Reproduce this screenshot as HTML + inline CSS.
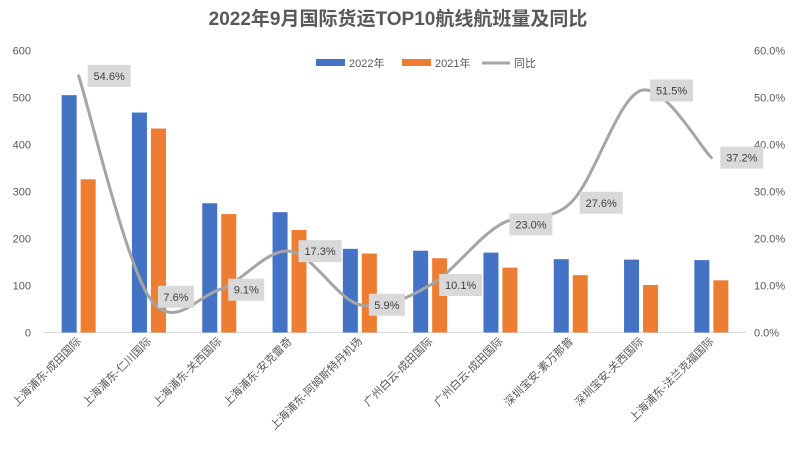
<!DOCTYPE html>
<html><head><meta charset="utf-8"><style>
body{margin:0;background:#fff;}
svg{display:block;font-family:"Liberation Sans","Noto Sans CJK SC",sans-serif;}
</style></head><body>
<svg id="chart" width="796" height="452">
<text x="398" y="25" text-anchor="middle" font-size="19" font-weight="bold" fill="#595959">2022年9月国际货运TOP10航线航班量及同比</text>
<g id="legend">
<g><rect x="316" y="59" width="29" height="7" fill="#4472c4"/><text x="349" y="67" font-size="11" fill="#595959">2022年</text></g>
<g><rect x="402" y="59" width="29" height="7" fill="#ed7d31"/><text x="435" y="67" font-size="11" fill="#595959">2021年</text></g>
<g><line x1="482" y1="63" x2="510" y2="63" stroke="#a5a5a5" stroke-width="3"/><text x="514" y="67" font-size="11" fill="#595959">同比</text></g>
</g>
<g id="axes"></g>
<g id="bars"></g>
<g id="line"></g>
<g id="labels"></g>
</svg>
<script>
const categories=["上海浦东-成田国际","上海浦东-仁川国际","上海浦东-关西国际","上海浦东-安克雷奇","上海浦东-阿姆斯特丹机场","广州白云-成田国际","广州白云-成田国际","深圳宝安-素万那普","深圳宝安-关西国际","上海浦东-法兰克福国际"];
const series2022=[505,468,275,256,178,174,170,156,155,154];
const series2021=[326,434,252,218,168,158,138,122,101,111];
const yoy=[54.6,7.6,9.1,17.3,5.9,10.1,23.0,27.6,51.5,37.2];
const leftTicks=[0,100,200,300,400,500,600];
const rightTicks=[0,10,20,30,40,50,60];

const NS="http://www.w3.org/2000/svg";
const x0=43.5,x1=746.5,yB=332.5,yT=50.5;
const bw=(x1-x0)/categories.length;
const xC=i=>x0+bw*(i+0.5);
const yL=v=>yB-(v/600)*(yB-yT);
const yR=v=>yB-(v/60)*(yB-yT);
function mk(tag,attrs,parent){const e=document.createElementNS(NS,tag);for(const k in attrs)e.setAttribute(k,attrs[k]);document.getElementById(parent).appendChild(e);return e;}

const base=mk('line',{x1:x0,y1:yB,x2:x1,y2:yB,stroke:'#d9d9d9','stroke-width':1},'axes');


leftTicks.forEach(t=>{const e=mk('text',{x:31,y:yL(t)+4,'text-anchor':'end','font-size':11,fill:'#595959'},'axes');e.textContent=t;

});
rightTicks.forEach(t=>{const e=mk('text',{x:754,y:yR(t)+4,'font-size':11,fill:'#595959'},'axes');e.textContent=t.toFixed(1)+'%';

});
categories.forEach((c,i)=>{const x=xC(i)+3,y=342;const e=mk('text',{x:x,y:y,'text-anchor':'end','font-size':11,fill:'#595959',transform:`rotate(-45 ${x} ${y})`},'axes');e.textContent=c;

});

series2022.forEach((v,i)=>{const r=mk('rect',{x:xC(i)-17,y:yL(v),width:15,height:yB-yL(v),fill:'#4472c4'},'bars');

});
series2021.forEach((v,i)=>{const r=mk('rect',{x:xC(i)+2,y:yL(v),width:15,height:yB-yL(v),fill:'#ed7d31'},'bars');

});

const pts=yoy.map((v,i)=>[xC(i),yR(v)]);
let d=`M${pts[0][0]},${pts[0][1]}`;
for(let i=0;i<pts.length-1;i++){const p0=pts[Math.max(0,i-1)],p1=pts[i],p2=pts[i+1],p3=pts[Math.min(pts.length-1,i+2)];
const c1=[p1[0]+(p2[0]-p0[0])/6,p1[1]+(p2[1]-p0[1])/6],c2=[p2[0]-(p3[0]-p1[0])/6,p2[1]-(p3[1]-p1[1])/6];
d+=` C${c1[0]},${c1[1]} ${c2[0]},${c2[1]} ${p2[0]},${p2[1]}`;}
const ln=mk('path',{d:d,fill:'none',stroke:'#a5a5a5','stroke-width':3,'stroke-linecap':'round'},'line');



yoy.forEach((v,i)=>{const [x,y]=pts[i];const txt=v.toFixed(1)+'%';const w=txt.length*7+8;
const r=mk('rect',{x:x+9,y:y-11,width:w,height:22,fill:'#d9d9d9'},'labels');


const t=mk('text',{x:x+9+w/2,y:y+4,'text-anchor':'middle','font-size':11,fill:'#404040'},'labels');t.textContent=txt;

});
</script>
</body></html>
